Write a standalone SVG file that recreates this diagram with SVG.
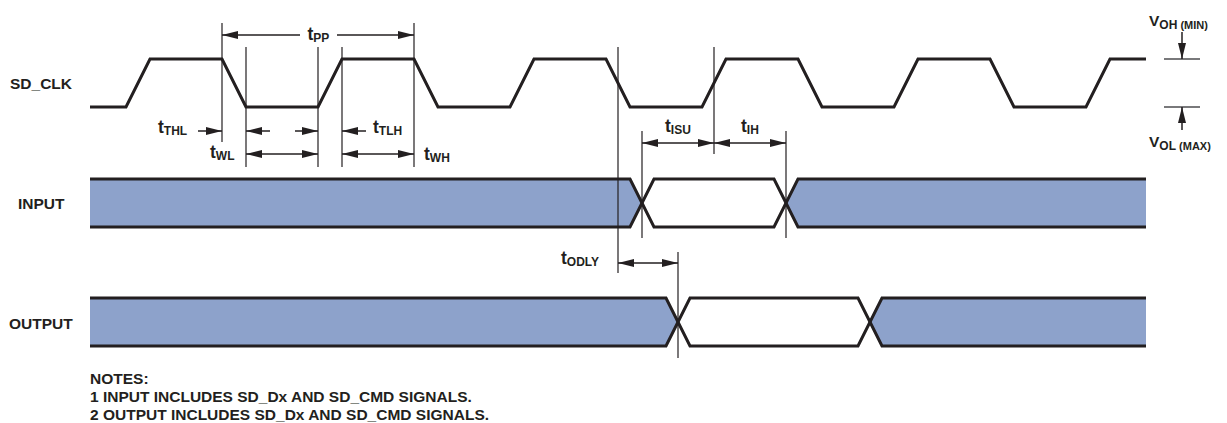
<svg xmlns="http://www.w3.org/2000/svg" width="1227" height="423" viewBox="0 0 1227 423">
<style>
text{font-family:"Liberation Sans",Arial,Helvetica,sans-serif;font-weight:bold;fill:#231f20}
.lbl{font-size:15.5px}
.t{font-size:17.5px}
.sub{font-size:12px}
.sub2{font-size:11px}
.sig{fill:none;stroke:#231f20;stroke-width:3;stroke-linejoin:miter}
.ref{stroke:#231f20;stroke-width:1.2;fill:none}
.dim{stroke:#231f20;stroke-width:1.5;fill:none}
.lvl{stroke:#4d4d4f;stroke-width:1.5;fill:none}
.bus{fill:#8da2cb;stroke:none}
</style>
<defs>
<marker id="ah" viewBox="0 0 16 8" refX="16" refY="4" markerWidth="16" markerHeight="8" markerUnits="userSpaceOnUse" orient="auto-start-reverse">
<path d="M0,0 L16,4 L0,8 z" fill="#231f20"/>
</marker>
</defs>
<rect width="1227" height="423" fill="#ffffff"/>

<g id="sd_clk">
<text class="lbl" x="10" y="88.5">SD_CLK</text>
<path class="sig" d="M90,107 L126,107 L150,59 L222,59 L246,107 L318,107 L342,59 L414,59 L438,107 L510,107 L534,59 L606,59 L630,107 L702,107 L726,59 L798,59 L822,107 L894,107 L918,59 L990,59 L1014,107 L1086,107 L1110,59 L1146,59"/>
</g>

<g id="input">
<text class="lbl" x="18" y="208.5">INPUT</text>
<polygon class="bus" points="90,179 630,179 642,203 630,227 90,227"/>
<polygon class="bus" points="786,203 798,179 1146,179 1146,227 798,227"/>
<path class="sig" d="M90,179 L630,179 L654,227 L774,227 L798,179 L1146,179"/>
<path class="sig" d="M90,227 L630,227 L654,179 L774,179 L798,227 L1146,227"/>
</g>

<g id="output">
<text class="lbl" x="9" y="328.5">OUTPUT</text>
<polygon class="bus" points="90,298 666,298 678,322 666,346 90,346"/>
<polygon class="bus" points="870,322 882,298 1146,298 1146,346 882,346"/>
<path class="sig" d="M90,298 L666,298 L690,346 L858,346 L882,298 L1146,298"/>
<path class="sig" d="M90,346 L666,346 L690,298 L858,298 L882,346 L1146,346"/>
</g>

<g id="levels">
<line class="lvl" x1="1164" y1="59" x2="1200" y2="59"/>
<line class="lvl" x1="1164" y1="107" x2="1200" y2="107"/>
<text class="lbl" x="1149" y="26">V<tspan class="sub" dy="2.5">OH</tspan><tspan class="sub2"> (MIN)</tspan></text>
<text class="lbl" x="1149" y="147">V<tspan class="sub" dy="2.5">OL</tspan><tspan class="sub2"> (MAX)</tspan></text>
</g>

<g id="connectors">
<line class="ref" x1="222" y1="23" x2="222" y2="142"/>
<line class="ref" x1="246" y1="47" x2="246" y2="167"/>
<line class="ref" x1="318" y1="47" x2="318" y2="167"/>
<line class="ref" x1="342" y1="47" x2="342" y2="167"/>
<line class="ref" x1="414" y1="23" x2="414" y2="167"/>
<line class="ref" x1="618" y1="47" x2="618" y2="273"/>
<line class="ref" x1="714" y1="47" x2="714" y2="154"/>
<line class="ref" x1="642" y1="131" x2="642" y2="238"/>
<line class="ref" x1="786" y1="131" x2="786" y2="238"/>
<line class="ref" x1="678" y1="252" x2="678" y2="358"/>

<line class="dim" x1="300" y1="35" x2="222" y2="35" marker-end="url(#ah)"/>
<line class="dim" x1="337" y1="35" x2="414" y2="35" marker-end="url(#ah)"/>
<line class="dim" x1="198" y1="131" x2="222" y2="131" marker-end="url(#ah)"/>
<line class="dim" x1="270" y1="131" x2="246" y2="131" marker-end="url(#ah)"/>
<line class="dim" x1="295" y1="131" x2="318" y2="131" marker-end="url(#ah)"/>
<line class="dim" x1="366" y1="131" x2="342" y2="131" marker-end="url(#ah)"/>
<line class="dim" x1="246" y1="154" x2="318" y2="154" marker-start="url(#ah)" marker-end="url(#ah)"/>
<line class="dim" x1="342" y1="154" x2="414" y2="154" marker-start="url(#ah)" marker-end="url(#ah)"/>
<line class="dim" x1="642" y1="143" x2="714" y2="143" marker-start="url(#ah)" marker-end="url(#ah)"/>
<line class="dim" x1="714" y1="143" x2="786" y2="143" marker-start="url(#ah)" marker-end="url(#ah)"/>
<line class="dim" x1="618" y1="263" x2="678" y2="263" marker-start="url(#ah)" marker-end="url(#ah)"/>
<line class="dim" x1="1182" y1="32" x2="1182" y2="59" marker-end="url(#ah)"/>
<line class="dim" x1="1182" y1="130" x2="1182" y2="107" marker-end="url(#ah)"/>
</g>

<g id="timing_labels">
<text class="t" x="307.5" y="39.5">t<tspan class="sub" dy="2">PP</tspan></text>
<text class="t" x="158" y="133">t<tspan class="sub" dy="2">THL</tspan></text>
<text class="t" x="210" y="158">t<tspan class="sub" dy="2">WL</tspan></text>
<text class="t" x="373" y="133">t<tspan class="sub" dy="2">TLH</tspan></text>
<text class="t" x="424" y="160">t<tspan class="sub" dy="2">WH</tspan></text>
<text class="t" x="665" y="131.5">t<tspan class="sub" dy="2">ISU</tspan></text>
<text class="t" x="741" y="131.5">t<tspan class="sub" dy="2">IH</tspan></text>
<text class="t" x="561" y="264">t<tspan class="sub" dy="2">ODLY</tspan></text>
</g>

<g id="notes">
<text class="lbl" x="90" y="384">NOTES:</text>
<text class="lbl" x="90" y="402">1 INPUT INCLUDES SD_Dx AND SD_CMD SIGNALS.</text>
<text class="lbl" x="90" y="420">2 OUTPUT INCLUDES SD_Dx AND SD_CMD SIGNALS.</text>
</g>
</svg>
